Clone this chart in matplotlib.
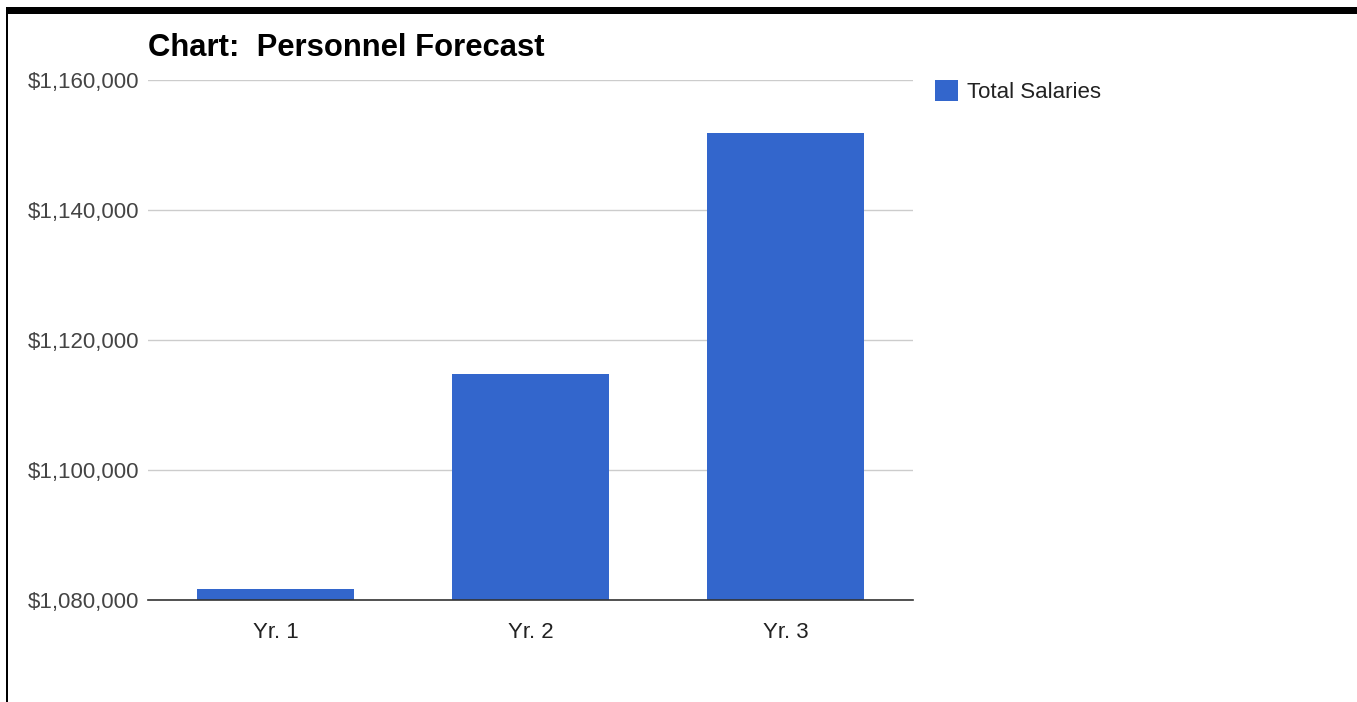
import matplotlib.pyplot as plt
from matplotlib.patches import Rectangle
from matplotlib.ticker import FuncFormatter

plt.rcParams['font.family'] = ['Liberation Sans', 'DejaVu Sans']

years = ["Yr. 1", "Yr. 2", "Yr. 3"]
total_salaries = [1081700, 1114700, 1151800]
y_ticks = [1080000, 1100000, 1120000, 1140000, 1160000]

W, H = 1357, 702
fig = plt.figure(figsize=(W / 100, H / 100), dpi=100)

# frame lines along the top and left edge
fig.add_artist(Rectangle((6 / W, 1 - 14 / H), 1 - 6 / W, 7 / H,
                         transform=fig.transFigure, color="black", lw=0))
fig.add_artist(Rectangle((6 / W, 0), 2 / W, 1 - 7 / H,
                         transform=fig.transFigure, color="black", lw=0))

ax = fig.add_axes([148 / W, (H - 600) / H, 765 / W, 520 / H])
x = range(len(years))
ax.bar(x, total_salaries, width=0.615, color="#3366cc", label="Total Salaries", zorder=3)

ax.set_xlim(-0.5, 2.5)
ax.set_ylim(1080000, 1160000)
ax.set_xticks(list(x))
ax.set_xticklabels(years)
ax.set_yticks(y_ticks)
ax.yaxis.set_major_formatter(FuncFormatter(lambda v, p: f"${v:,.0f}"))
ax.tick_params(axis="y", length=0, pad=6.4, labelsize=16, labelcolor="#444444")
ax.tick_params(axis="x", length=0, pad=15.5, labelsize=16, labelcolor="#222222")
ax.grid(axis="y", color="#cccccc", lw=1, zorder=0)
for side in ["top", "right", "left"]:
    ax.spines[side].set_visible(False)
ax.spines["bottom"].set_color("#333333")
ax.spines["bottom"].set_linewidth(1.2)
ax.spines["bottom"].set_zorder(4)

fig.text(148 / W, 1 - 48.5 / H, "Chart:  Personnel Forecast", fontsize=22.3,
         fontweight="bold", va="center", ha="left", color="black")

ax.legend(loc="upper left", bbox_to_anchor=(926 / W, 1 - 71 / H),
          bbox_transform=fig.transFigure, frameon=False, fontsize=16,
          handlelength=1.06, handleheight=1.06, handletextpad=0.4,
          labelcolor="#222222", borderaxespad=0)

fig.savefig("out.png", dpi=100)
